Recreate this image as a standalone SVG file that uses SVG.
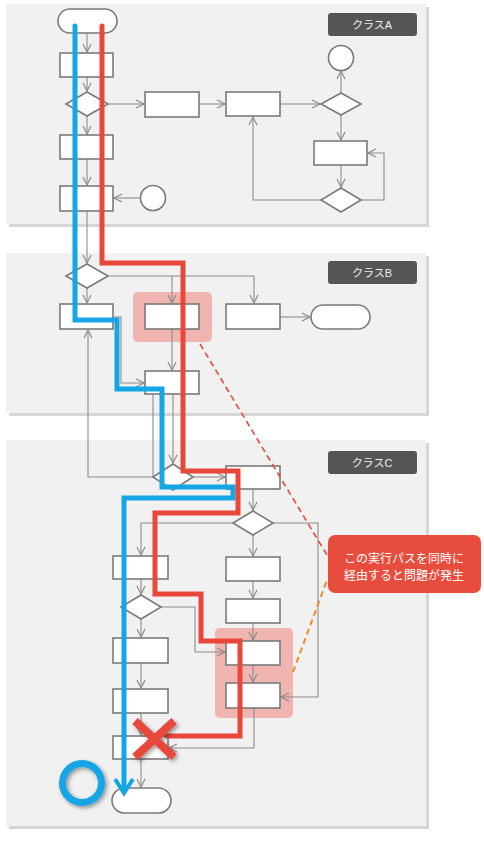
<svg xmlns="http://www.w3.org/2000/svg" width="484" height="842" viewBox="0 0 484 842">
<defs>
<style>
.panel{fill:#f1f1f1}
.shadow{fill:#d6d6d6}
.node{fill:#fff;stroke:#7a7a7a;stroke-width:1.6}
.conn{fill:none;stroke:#8c8c8c;stroke-width:1.1}
.lbl{fill:#555}
.lbltxt{fill:#eeeeee;font-family:"Liberation Sans","Noto Sans CJK JP",sans-serif;font-size:11px;text-anchor:middle}
.hl{fill:#f0b5b1}
.blue{fill:none;stroke:#15a6e6;stroke-width:5;stroke-linejoin:miter}
.red{fill:none;stroke:#e8473a;stroke-width:5;stroke-linejoin:miter}
.calltxt{fill:#fff;font-family:"Noto Sans CJK JP",sans-serif;font-size:12px;text-anchor:middle}
</style>
<marker id="arr" viewBox="0 0 10 10" refX="9" refY="5" markerWidth="10" markerHeight="10" markerUnits="userSpaceOnUse" orient="auto">
<path d="M1,1 L9,5 L1,9" fill="none" stroke="#8c8c8c" stroke-width="1.2"/>
</marker>
<filter id="sh" x="-30%" y="-30%" width="160%" height="160%">
<feGaussianBlur in="SourceAlpha" stdDeviation="2"/>
<feOffset dx="2" dy="2" result="b"/>
<feComponentTransfer><feFuncA type="linear" slope="0.4"/></feComponentTransfer>
<feMerge><feMergeNode/><feMergeNode in="SourceGraphic"/></feMerge>
</filter>
</defs>

<g id="panels">
<rect class="shadow" x="9" y="7" width="420" height="220"/>
<rect class="panel" x="6" y="4" width="420" height="220"/>
<rect class="shadow" x="9" y="256" width="420" height="160"/>
<rect class="panel" x="6" y="253" width="420" height="160"/>
<rect class="shadow" x="9" y="443" width="420" height="386"/>
<rect class="panel" x="6" y="440" width="420" height="386"/>
</g>

<g id="labels">
<g id="labelA"><rect class="lbl" x="328" y="13" width="89" height="23" rx="3"/><text class="lbltxt" x="372" y="28.5">クラスA</text></g>
<g id="labelB"><rect class="lbl" x="328" y="261" width="89" height="23" rx="3"/><text class="lbltxt" x="372" y="276.5">クラスB</text></g>
<g id="labelC"><rect class="lbl" x="328" y="451" width="89" height="23" rx="3"/><text class="lbltxt" x="372" y="466.5">クラスC</text></g>
</g>

<g id="highlights">
<rect class="hl" x="133" y="292" width="79" height="50" rx="5"/>
<rect class="hl" x="215" y="628" width="78" height="90" rx="5"/>
</g>

<g id="connectors">
<path class="conn" marker-end="url(#arr)" d="M87,33 V52"/>
<path class="conn" marker-end="url(#arr)" d="M87,77 V91"/>
<path class="conn" marker-end="url(#arr)" d="M87,116 V134"/>
<path class="conn" marker-end="url(#arr)" d="M87,159 V185"/>
<path class="conn" marker-end="url(#arr)" d="M108,104 H144"/>
<path class="conn" marker-end="url(#arr)" d="M199,104 H225"/>
<path class="conn" marker-end="url(#arr)" d="M280,104 H320"/>
<path class="conn" marker-end="url(#arr)" d="M341,93 V71"/>
<path class="conn" marker-end="url(#arr)" d="M341,115 V140"/>
<path class="conn" marker-end="url(#arr)" d="M341,165 V187"/>
<path class="conn" marker-end="url(#arr)" d="M361,200 H384 V153 H368"/>
<path class="conn" marker-end="url(#arr)" d="M321,200 H253 V117"/>
<path class="conn" marker-end="url(#arr)" d="M140,198 H114"/>
<path class="conn" marker-end="url(#arr)" d="M87,211 V263"/>

<path class="conn" marker-end="url(#arr)" d="M87,288 V303"/>
<path class="conn" marker-end="url(#arr)" d="M108,276 H254 V303"/>
<path class="conn" marker-end="url(#arr)" d="M172,276 V303"/>
<path class="conn" marker-end="url(#arr)" d="M280,317 H310"/>
<path class="conn" marker-end="url(#arr)" d="M172,329 V370"/>
<path class="conn" marker-end="url(#arr)" d="M113,317 H121 V383 H144"/>
<path class="conn" marker-end="url(#arr)" d="M153,477 H88 V330"/>
<path class="conn" d="M153,394 V477"/>
<path class="conn" marker-end="url(#arr)" d="M173,394 V463"/>

<path class="conn" marker-end="url(#arr)" d="M193,477 H225"/>
<path class="conn" marker-end="url(#arr)" d="M253,489 V510"/>
<path class="conn" marker-end="url(#arr)" d="M233,523 H141 V555"/>
<path class="conn" marker-end="url(#arr)" d="M273,523 H318 V697 H281"/>
<path class="conn" marker-end="url(#arr)" d="M141,579 V594"/>
<path class="conn" marker-end="url(#arr)" d="M161,607 H195 V652 H225"/>
<path class="conn" marker-end="url(#arr)" d="M141,619 V637"/>
<path class="conn" marker-end="url(#arr)" d="M141,663 V688"/>
<path class="conn" marker-end="url(#arr)" d="M141,713 V735"/>
<path class="conn" marker-end="url(#arr)" d="M141,759 V787"/>
<path class="conn" marker-end="url(#arr)" d="M253,535 V556"/>
<path class="conn" marker-end="url(#arr)" d="M253,581 V598"/>
<path class="conn" marker-end="url(#arr)" d="M253,623 V640"/>
<path class="conn" marker-end="url(#arr)" d="M253,665 V682"/>
<path class="conn" marker-end="url(#arr)" d="M254,708 V748 H169"/>
</g>

<g id="nodesA">
<rect id="a_start" class="node" x="58" y="9" width="59" height="24" rx="12"/>
<rect id="a_r1" class="node" x="60" y="53" width="53" height="24"/>
<polygon id="a_d1" class="node" points="87,92 108,104 87,116 66,104"/>
<rect id="a_r2" class="node" x="60" y="135" width="53" height="24"/>
<rect id="a_r3" class="node" x="60" y="186" width="53" height="25"/>
<circle id="a_c1" class="node" cx="153" cy="198" r="12.5"/>
<rect id="a_r4" class="node" x="145" y="92" width="54" height="25"/>
<rect id="a_r5" class="node" x="226" y="92" width="54" height="24"/>
<polygon id="a_d2" class="node" points="341,93 361,104 341,115 321,104"/>
<circle id="a_c2" class="node" cx="341" cy="58" r="12.5"/>
<rect id="a_r6" class="node" x="314" y="141" width="53" height="24"/>
<polygon id="a_d3" class="node" points="341,188 361,200 341,212 321,200"/>
</g>

<g id="nodesB">
<polygon id="b_d1" class="node" points="87,264 108,276 87,288 66,276"/>
<rect id="b_r1" class="node" x="60" y="304" width="53" height="25"/>
<rect id="b_r2" class="node" x="145" y="304" width="54" height="25"/>
<rect id="b_r3" class="node" x="226" y="304" width="54" height="25"/>
<rect id="b_end" class="node" x="311" y="305" width="59" height="24" rx="12"/>
<rect id="b_r4" class="node" x="145" y="371" width="54" height="23"/>
</g>

<g id="nodesC">
<polygon id="c_d1" class="node" points="173,464 193,477 173,490 153,477"/>
<rect id="c_r1" class="node" x="226" y="466" width="54" height="23"/>
<polygon id="c_d2" class="node" points="253,511 273,523 253,535 233,523"/>
<rect id="c_r2" class="node" x="113" y="556" width="55" height="23"/>
<polygon id="c_d3" class="node" points="141,595 161,607 141,619 121,607"/>
<rect id="c_r7" class="node" x="113" y="638" width="55" height="25"/>
<rect id="c_r8" class="node" x="113" y="689" width="55" height="24"/>
<rect id="c_r9" class="node" x="113" y="736" width="55" height="23"/>
<rect id="c_end" class="node" x="112" y="788" width="59" height="25" rx="12.5"/>
<rect id="c_r3" class="node" x="226" y="557" width="54" height="24"/>
<rect id="c_r4" class="node" x="226" y="599" width="54" height="24"/>
<rect id="c_r5" class="node" x="226" y="641" width="54" height="24"/>
<rect id="c_r6" class="node" x="226" y="683" width="54" height="25"/>
</g>

<g id="paths">
<path class="blue" stroke-linecap="round" d="M75,26 V320 H117 V389 H162 V487 H233 V498 H124 V790"/>
<path d="M115,779 L124,793 L133,779" fill="none" stroke="#15a6e6" stroke-width="4"/>
<path class="red" stroke-linecap="round" d="M102,26 V263 H183 V471 H238 V513 H155 V594 H201 V641 H240 V736 H167"/>
</g>

<g id="markers">
<g id="ok" filter="url(#sh)"><circle cx="82" cy="783" r="19.5" fill="none" stroke="#15a6e6" stroke-width="7"/></g>
<g id="ng" filter="url(#sh)">
<path d="M135,721 L174,757 M174,721 L135,757" stroke="#e8473a" stroke-width="8"/>
</g>
</g>

<g id="callout">
<line x1="200" y1="344" x2="327" y2="555" stroke="#e8473a" stroke-width="1.6" stroke-dasharray="6,4"/>
<line x1="293" y1="672" x2="327" y2="580" stroke="#f08a2c" stroke-width="2" stroke-dasharray="6,4"/>
<rect x="328" y="535" width="153" height="58" rx="7" fill="#e84c3d"/>
<text class="calltxt" x="404" y="563">この実行パスを同時に</text>
<text class="calltxt" x="404" y="580">経由すると問題が発生</text>
</g>
</svg>
